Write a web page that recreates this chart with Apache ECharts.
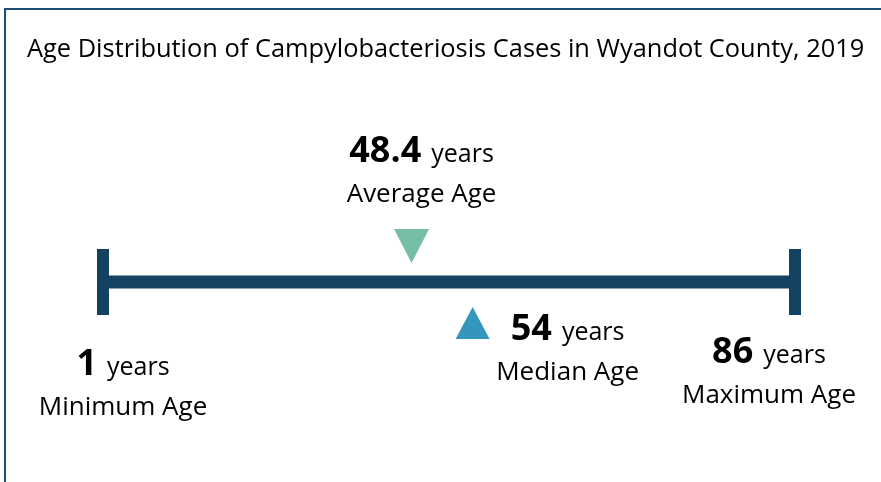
<!DOCTYPE html>
<html>
<head>
<meta charset="utf-8">
<script src="https://cdn.jsdelivr.net/npm/echarts@6/dist/echarts.min.js"></script>
<style>
  html, body { margin: 0; padding: 0; background: #fff; }
  #chart { width: 881px; height: 482px; }
</style>
</head>
<body>
<div id="chart"></div>
<script>
// summary stats for the age range
const statNames = ['Minimum Age', 'Average Age', 'Median Age', 'Maximum Age'];
const statValues = [1, 48.4, 54, 86];
// where each marker sits along the line in the infographic (avg/median are not drawn to scale)
const drawnAt = [1, 38.9, 46.4, 86];
const rangeEnds = [1, 86];

const FONT = '"Open Sans", "Noto Sans", sans-serif';

const chart = echarts.init(document.getElementById('chart'));

// label block placement per stat: [dx, dy] from the point on the line
const labelOffsets = [[20, 61], [10, -152], [95, 26], [-26, 49]];

function statLabel (i) {
  return {
    show: true,
    position: 'inside',
    align: 'center',
    verticalAlign: 'top',
    offset: labelOffsets[i],
    color: '#000',
    opacity: 1,
    textBorderWidth: 0,
    formatter: '{v|' + statValues[i] + '}{u|years}\n{t|' + statNames[i] + '}',
    rich: {
      v: { fontFamily: FONT, fontSize: 36, fontWeight: 'bold', color: '#000', lineHeight: 40, verticalAlign: 'bottom' },
      u: { fontFamily: FONT, fontSize: 25, color: '#000', lineHeight: 40, padding: [0, 0, 3, 10], verticalAlign: 'bottom' },
      t: { fontFamily: FONT, fontSize: 26, color: '#000', lineHeight: 50 }
    }
  };
}

const option = {
  animation: false,
  backgroundColor: '#fff',
  title: {
    text: 'Age Distribution of Campylobacteriosis Cases in Wyandot County, 2019',
    left: 22,
    top: 32,
    textStyle: { fontFamily: FONT, fontSize: 25.4, fontWeight: 'normal', color: '#000' }
  },
  graphic: [{
    type: 'rect',
    shape: { x: 5, y: 9, width: 1000, height: 1000 },
    style: { fill: 'none', stroke: '#1f4e79', lineWidth: 2 },
    silent: true
  }],
  grid: { left: 103, right: 86, top: 182, bottom: 100 },
  xAxis: { type: 'value', min: rangeEnds[0], max: rangeEnds[1], show: false },
  yAxis: { type: 'value', min: -1, max: 1, show: false },
  series: [
    {
      name: 'range',
      type: 'line',
      data: rangeEnds.map(v => [v, 0]),
      symbol: 'none',
      lineStyle: { color: '#134263', width: 13, cap: 'butt' },
      z: 2
    },
    {
      name: 'ends',
      type: 'scatter',
      data: rangeEnds.map(v => [v, 0]),
      symbol: 'rect',
      symbolSize: [12, 66],
      itemStyle: { color: '#134263', opacity: 1 },
      z: 3
    },
    {
      name: 'average',
      type: 'scatter',
      data: [[drawnAt[1], 0]],
      symbol: 'triangle',
      symbolRotate: 180,
      symbolSize: [35, 34],
      symbolOffset: [0, -36],
      itemStyle: { color: '#76bfa6', opacity: 1 },
      z: 3
    },
    {
      name: 'median',
      type: 'scatter',
      data: [[drawnAt[2], 0]],
      symbol: 'triangle',
      symbolSize: [34, 32],
      symbolOffset: [0, 41],
      itemStyle: { color: '#3596bd', opacity: 1 },
      z: 3
    },
    {
      name: 'labels',
      type: 'scatter',
      symbolSize: 0,
      itemStyle: { color: '#000', opacity: 1 },
      data: drawnAt.map((v, i) => ({ value: [v, 0], label: statLabel(i) })),
      z: 4
    }
  ]
};

chart.setOption(option);
</script>
</body>
</html>
